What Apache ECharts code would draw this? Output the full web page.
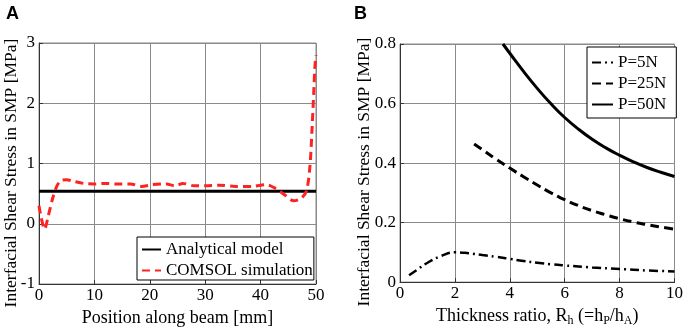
<!DOCTYPE html>
<html>
<head>
<meta charset="utf-8">
<script src="https://cdn.jsdelivr.net/npm/echarts@6/dist/echarts.min.js"></script>
<style>
  html, body { margin: 0; padding: 0; background: #fff; }
  #chart { width: 686px; height: 332px; }
</style>
</head>
<body>
<div id="chart"></div>
<script>
// Panel A: position along beam [mm] vs shear stress [MPa]
const analyticalA = [[0, 0.54], [50, 0.54]];
const comsolA = [
  [0, 0.3], [0.4, 0.1], [1, -0.09], [1.6, 0.1], [2.4, 0.4], [3.2, 0.62], [4, 0.72],
  [5, 0.73], [6, 0.71], [8, 0.67], [10, 0.66], [12, 0.67], [14, 0.66], [16.5, 0.66],
  [18.5, 0.62], [20.5, 0.65], [23, 0.66], [24.5, 0.63], [26, 0.67], [28, 0.63],
  [30, 0.63], [32.5, 0.64], [35.5, 0.62], [38.5, 0.62], [41, 0.65], [42.8, 0.58],
  [44.5, 0.47], [46, 0.38], [47.4, 0.43], [48.3, 0.55], [48.9, 0.95], [49.3, 1.6],
  [49.6, 2.2], [49.8, 2.6], [50, 2.8]
];

// Panel B: thickness ratio vs shear stress [MPa]
const p5N = [
  [0.33, 0.023], [0.6, 0.04], [1, 0.065], [1.5, 0.088], [2, 0.1], [2.5, 0.097],
  [3, 0.091], [3.5, 0.085], [4, 0.078], [4.5, 0.071], [5, 0.065], [5.5, 0.06],
  [6, 0.056], [7, 0.049], [8, 0.044], [9, 0.039], [10, 0.036]
];
const p25N = [
  [2.7, 0.464], [3, 0.445], [3.5, 0.413], [4, 0.383], [4.5, 0.354], [5, 0.326],
  [5.5, 0.3], [6, 0.277], [6.5, 0.257], [7, 0.24], [7.5, 0.226], [8, 0.213],
  [8.5, 0.202], [9, 0.193], [9.5, 0.185], [10, 0.178]
];
const p50N = [
  [3.75, 0.8], [4, 0.769], [4.5, 0.708], [5, 0.651], [5.5, 0.599], [6, 0.553],
  [6.5, 0.514], [7, 0.48], [7.5, 0.451], [8, 0.426], [8.5, 0.404], [9, 0.385],
  [9.5, 0.369], [10, 0.355]
];

const legendA = ['Analytical model', 'COMSOL simulation'];
const legendB = ['P=5N', 'P=25N', 'P=50N'];
const yTitle = 'Interfacial Shear Stress in SMP [MPa]';

const serif = 'Liberation Serif';
const gridColor = '#8a8a8a';

function xAxisStyle(idx, min, max, interval, name) {
  return {
    type: 'value', gridIndex: idx, min, max, interval,
    name, nameLocation: 'middle', nameGap: 19,
    nameTextStyle: {
      fontFamily: serif, fontSize: 18, color: '#000',
      rich: { sub: { fontFamily: serif, fontSize: 12, color: '#000', padding: [10, 0, 0, 0] } }
    },
    axisLine: { onZero: false, lineStyle: { color: '#333', width: 1 } },
    axisTick: { show: true, inside: true, length: 4, lineStyle: { color: '#333' } },
    axisLabel: { fontFamily: serif, fontSize: 17, color: '#000', margin: 3 },
    splitLine: { show: true, lineStyle: { color: gridColor, width: 1 } }
  };
}

function yAxisStyle(idx, min, max, interval) {
  return {
    type: 'value', gridIndex: idx, min, max, interval,
    axisLine: { show: true, onZero: false, lineStyle: { color: '#333', width: 1 } },
    axisTick: { show: true, inside: true, length: 4, lineStyle: { color: '#333' } },
    axisLabel: { fontFamily: serif, fontSize: 17, color: '#000', margin: 4 },
    splitLine: { show: true, lineStyle: { color: gridColor, width: 1 } }
  };
}

// hide the circle that line series put in their legend icon
const noSymbol = { color: 'transparent', borderColor: 'transparent', borderWidth: 0 };
const legendText = { fontFamily: serif, fontSize: 17, color: '#000', lineHeight: 16 };

const chart = echarts.init(document.getElementById('chart'), null, { renderer: 'canvas' });

const option = {
  backgroundColor: '#fff',
  animation: false,
  grid: [
    { left: 39, top: 43, width: 277, height: 241, show: true, borderColor: gridColor, borderWidth: 1 },
    { left: 400, top: 44, width: 277, height: 240, show: true, borderColor: gridColor, borderWidth: 1 }
  ],
  xAxis: [
    xAxisStyle(0, 0, 50, 10, 'Position along beam [mm]'),
    xAxisStyle(1, 0, 10, 2, 'Thickness ratio, R{sub|h} (=h{sub|P}/h{sub|A})')
  ],
  yAxis: [
    yAxisStyle(0, -1, 3, 1),
    yAxisStyle(1, 0, 0.8, 0.2)
  ],
  legend: [
    {
      data: legendA, orient: 'vertical', left: 137, top: 237,
      itemWidth: 19, itemHeight: 16, itemGap: 4,
      padding: [4, 1, 1, 4],
      backgroundColor: '#fff', borderColor: '#000', borderWidth: 1,
      itemStyle: noSymbol, textStyle: legendText
    },
    {
      data: legendB, orient: 'vertical', left: 587, top: 47,
      itemWidth: 21, itemHeight: 16, itemGap: 4,
      padding: [7, 10, 5, 4],
      backgroundColor: '#fff', borderColor: '#000', borderWidth: 1,
      itemStyle: noSymbol, textStyle: legendText
    }
  ],
  graphic: [
    { type: 'text', left: 6, top: 5, style: { text: 'A', font: 'bold 18px "Liberation Sans"', fill: '#000' } },
    { type: 'text', left: 354, top: 5, style: { text: 'B', font: 'bold 18px "Liberation Sans"', fill: '#000' } },
    {
      type: 'text', x: 11, y: 173, rotation: Math.PI / 2,
      style: { text: yTitle, font: '17.5px "Liberation Serif"', fill: '#000', align: 'center', verticalAlign: 'middle', textAlign: 'center', textVerticalAlign: 'middle' }
    },
    {
      type: 'text', x: 364, y: 172, rotation: Math.PI / 2,
      style: { text: yTitle, font: '17.5px "Liberation Serif"', fill: '#000', align: 'center', verticalAlign: 'middle', textAlign: 'center', textVerticalAlign: 'middle' }
    }
  ],
  series: [
    {
      name: legendA[0], type: 'line', xAxisIndex: 0, yAxisIndex: 0,
      data: analyticalA, symbol: 'none', color: '#000',
      lineStyle: { color: '#000', width: 3 }
    },
    {
      name: legendA[1], type: 'line', xAxisIndex: 0, yAxisIndex: 0,
      data: comsolA, symbol: 'none', smooth: 0.3, color: '#ff2222',
      lineStyle: { color: '#ff2222', width: 3, type: [8, 5] }
    },
    {
      name: legendB[0], type: 'line', xAxisIndex: 1, yAxisIndex: 1,
      data: p5N, symbol: 'none', smooth: true, color: '#000',
      lineStyle: { color: '#000', width: 2.5, type: [9, 4, 2, 4] }
    },
    {
      name: legendB[1], type: 'line', xAxisIndex: 1, yAxisIndex: 1,
      data: p25N, symbol: 'none', smooth: true, color: '#000',
      lineStyle: { color: '#000', width: 3, type: [9, 5] }
    },
    {
      name: legendB[2], type: 'line', xAxisIndex: 1, yAxisIndex: 1,
      data: p50N, symbol: 'none', smooth: true, color: '#000',
      lineStyle: { color: '#000', width: 3 }
    }
  ]
};

chart.setOption(option);
</script>
</body>
</html>
